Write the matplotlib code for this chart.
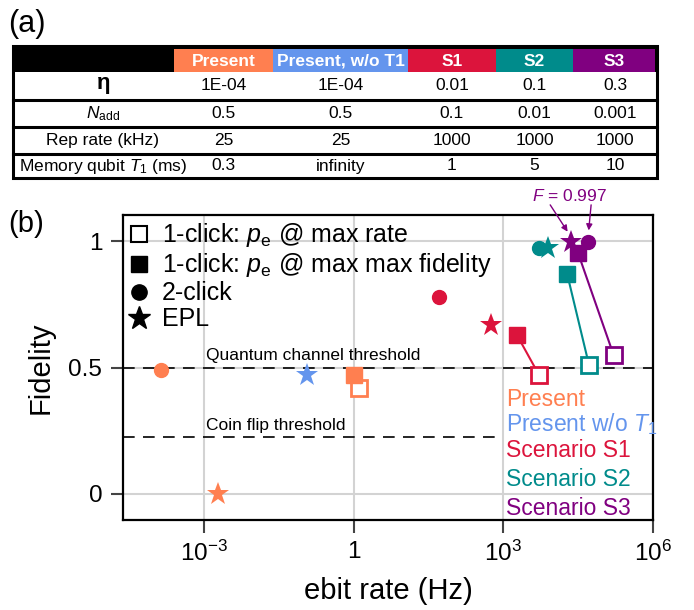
import numpy as np
import matplotlib
matplotlib.use("Agg")
import matplotlib.pyplot as plt
from matplotlib.lines import Line2D
from matplotlib.patches import Rectangle

plt.rcParams['font.family'] = ['Liberation Sans', 'DejaVu Sans']
plt.rcParams['mathtext.fontset'] = 'custom'
plt.rcParams['mathtext.rm'] = 'Liberation Sans'
plt.rcParams['mathtext.it'] = 'Liberation Sans:italic'
plt.rcParams['mathtext.bf'] = 'Liberation Sans:bold'

###############################################################################
# (a) scenario parameters
col_names = ['Present', 'Present, w/o T1', 'S1', 'S2', 'S3']
row_names = [r'$\mathbf{\eta}$', r'$N_\mathrm{add}$', 'Rep rate (kHz)',
             r'Memory qubit $T_1$ (ms)']
eta = ['1E-04', '1E-04', '0.01', '0.1', '0.3']
n_add = ['0.5', '0.5', '0.1', '0.01', '0.001']
rep_rate = ['25', '25', '1000', '1000', '1000']
t1_mem = ['0.3', 'infinity', '1', '5', '10']
colors = ['#FF7F50', '#6495ED', '#DC143C', '#008B8B', '#800080']

###############################################################################
# (b) ebit rate (Hz) / fidelity, order: Present, S1, S2, S3
sq_names = ['Present', 'S1', 'S2', 'S3']
sq_colors = ['#FF7F50', '#DC143C', '#008B8B', '#800080']
rate_open = [1.26, 5250, 52500, 162000]      # 1-click, p_e @ max rate
fid_open = [0.42, 0.469, 0.508, 0.55]
rate_fill = [1.0, 1860, 19000, 31600]        # 1-click, p_e @ max fidelity
fid_fill = [0.47, 0.63, 0.871, 0.952]
rate_2click = [1.4e-4, 51, 5250, 49000]
fid_2click = [0.49, 0.78, 0.972, 0.997]

epl_colors = ['#FF7F50', '#6495ED', '#DC143C', '#008B8B', '#800080']
rate_epl = [1.95e-3, 0.117, 556, 7940, 22900]
fid_epl = [0.0, 0.47, 0.669, 0.972, 0.997]

quantum_thr = 0.5
coin_thr = 0.225

###############################################################################
fig = plt.figure(figsize=(6.94, 6.10), dpi=100)

# table drawn in pixel units on an overlay
axt = fig.add_axes([0, 0, 1, 1])
axt.set_xlim(0, 694)
axt.set_ylim(610, 0)
axt.axis('off')

table_fs = 12.5
col_edges = [13, 174, 273, 408, 496, 573, 657]
row_edges = [72, 99.5, 127, 154, 178]
axt.add_patch(Rectangle((13, 46), 644, 26, color='black', lw=0))
for i, name in enumerate(col_names):
    x0, x1 = col_edges[i + 1], col_edges[i + 2]
    if i == len(col_names) - 1:
        x1 = 655
    axt.add_patch(Rectangle((x0, 49), x1 - x0, 23, color=colors[i], lw=0))
    axt.text((x0 + x1) / 2, 61, name, color='white', fontsize=table_fs,
             fontweight='bold', ha='center', va='center')

rows = [eta, n_add, rep_rate, t1_mem]
for r, (label, vals) in enumerate(zip(row_names, rows)):
    yc = (row_edges[r] + row_edges[r + 1]) / 2
    axt.text(103, yc, label, fontsize=16 if r == 0 else table_fs,
             ha='center', va='center')
    for c, v in enumerate(vals):
        axt.text((col_edges[c + 1] + col_edges[c + 2]) / 2, yc, v,
                 fontsize=table_fs, ha='center', va='center')
for y in row_edges[1:-1]:
    axt.plot([13, 657], [y, y], color='black', lw=2.2)
axt.add_patch(Rectangle((13, 46), 644, 132, fill=False, ec='black', lw=2.2))

fig.text(8 / 694, 1 - 24 / 610, '(a)', fontsize=22, va='center')
fig.text(8 / 694, 1 - 224 / 610, '(b)', fontsize=21, va='center')

###############################################################################
ax = fig.add_axes([123 / 694, 1 - 520 / 610, 530 / 694, 305 / 610])
ax.set_xscale('log')
ax.set_xlim(10 ** -4.62, 1e6)
ax.set_ylim(-0.103, 1.103)

ax.set_xticks([1e-3, 1, 1e3, 1e6])
ax.set_xticklabels([r'$10^{-3}$', '1', r'$10^{3}$', r'$10^{6}$'])
ax.minorticks_off()
ax.set_yticks([0, 0.5, 1])
ax.set_yticklabels(['0', '0.5', '1'])
ax.grid(True, color='#d3d3d3', lw=1.5, zorder=0)
ax.set_axisbelow(True)
ax.tick_params(direction='out', length=9, width=1.5, color='#444444',
               labelsize=17.5, pad=6)
for s in ax.spines.values():
    s.set_linewidth(1.6)

ax.axhline(quantum_thr, color='k', lw=1.2, ls=(0, (7, 5)), zorder=1)
ax.axhline(coin_thr, xmin=0, xmax=0.713, color='k', lw=1.2, ls=(0, (7, 5)),
           zorder=1)
ax.text(10 ** -2.95, 0.531, 'Quantum channel threshold', fontsize=12.5)
ax.text(10 ** -2.95, 0.252, 'Coin flip threshold', fontsize=12.5)

for i in range(len(sq_names)):
    c = sq_colors[i]
    ax.plot([rate_fill[i], rate_open[i]], [fid_fill[i], fid_open[i]],
            color=c, lw=1.5, zorder=2)
    ax.plot(rate_open[i], fid_open[i], 's', ms=11.5, mfc='white', mec=c,
            mew=2, zorder=3)
    ax.plot(rate_fill[i], fid_fill[i], 's', ms=11.5, color=c, zorder=4)
    ax.plot(rate_2click[i], fid_2click[i], 'o', ms=10, color=c, zorder=4)
for i in range(len(rate_epl)):
    ax.plot(rate_epl[i], fid_epl[i], '*', ms=17, color=epl_colors[i],
            mew=0, zorder=5)

# F = 0.997 callout for S3
ax.text(10 ** 4.32, 1.18, r'$F$ = 0.997', color='#800080', fontsize=12.5,
        ha='center', va='center')
arrow = dict(arrowstyle='-|>', color='#800080', lw=1.0, mutation_scale=9,
             shrinkA=0, shrinkB=0)
ax.annotate('', xy=(rate_epl[4] * 0.85, fid_epl[4] + 0.04),
            xytext=(10 ** 3.94, 1.143), arrowprops=arrow)
ax.annotate('', xy=(rate_2click[3] * 1.05, fid_2click[3] + 0.045),
            xytext=(10 ** 4.76, 1.143), arrowprops=arrow)

# scenario colour key
key_labels = ['Present', r'Present w/o $T_1$', 'Scenario S1', 'Scenario S2',
              'Scenario S3']
key_y = [0.349, 0.247, 0.146, 0.030, -0.082]
for lab, yk, c in zip(key_labels, key_y, epl_colors):
    ax.text(10 ** 3.05, yk, lab, color=c, fontsize=16.5, va='baseline')

handles = [
    Line2D([], [], ls='none', marker='s', ms=11.5, mfc='white', mec='k',
           mew=1.5),
    Line2D([], [], ls='none', marker='s', ms=11.5, color='k'),
    Line2D([], [], ls='none', marker='o', ms=11, color='k'),
    Line2D([], [], ls='none', marker='*', ms=17, color='k'),
]
labels = [r'1-click: $p_\mathrm{e}$ @ max rate',
          r'1-click: $p_\mathrm{e}$ @ max max fidelity',
          '2-click', 'EPL']
ax.legend(handles, labels, loc='upper left', frameon=False, fontsize=18,
          handlelength=0.8, handletextpad=0.5, labelspacing=0.08,
          borderaxespad=0.1, borderpad=0.15)

ax.set_xlabel('ebit rate (Hz)', fontsize=21, labelpad=8)
ax.set_ylabel('Fidelity', fontsize=21, labelpad=10)

fig.savefig('out.png', dpi=100)
